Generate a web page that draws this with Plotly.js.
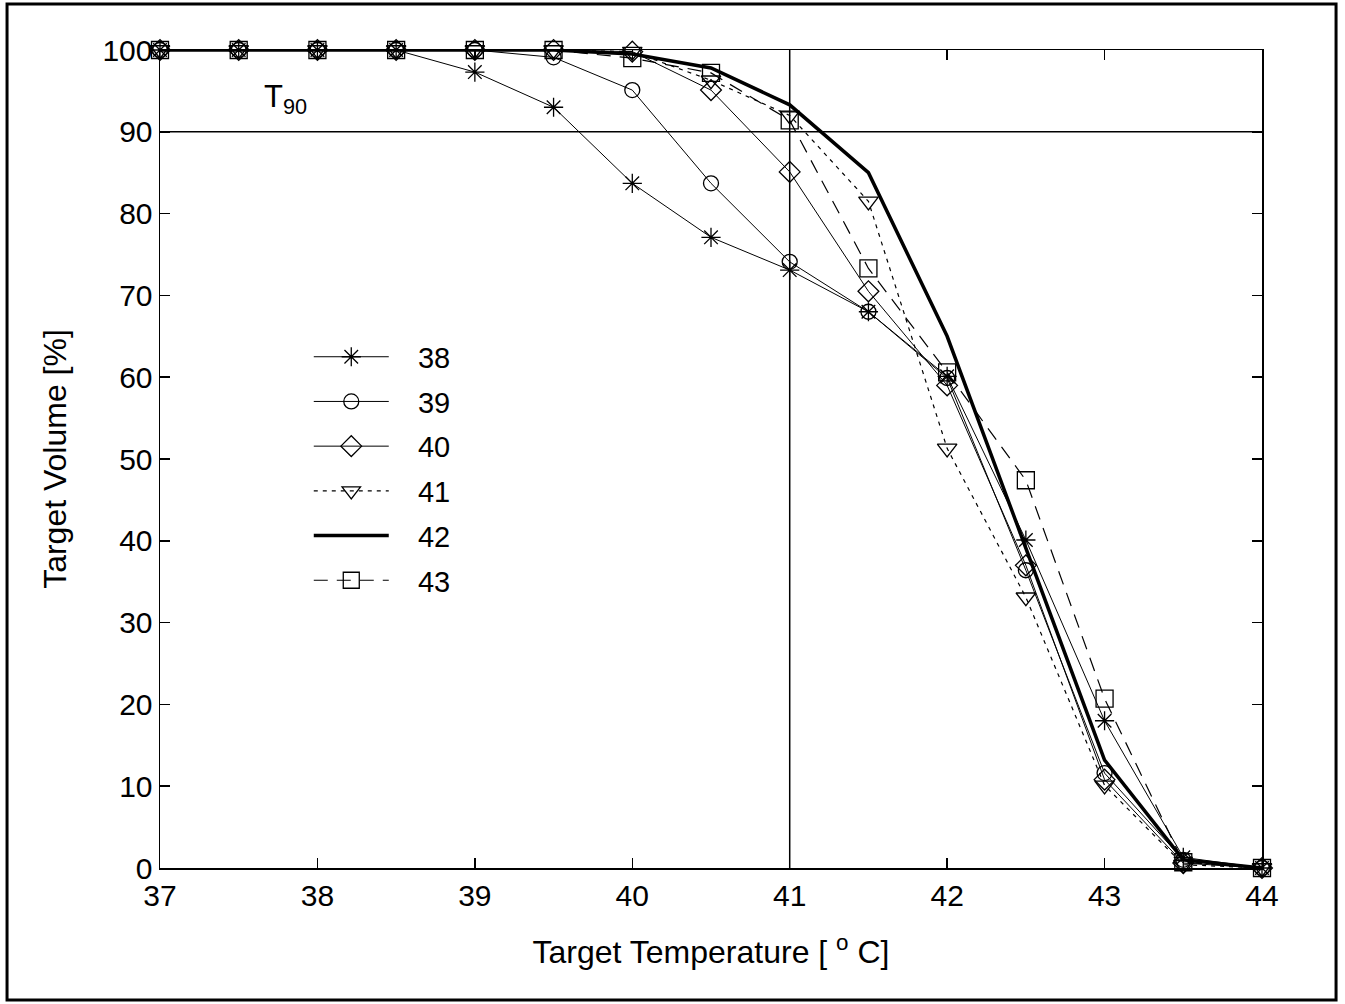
<!DOCTYPE html>
<html>
<head>
<meta charset="utf-8">
<script src="https://cdn.plot.ly/plotly-3.0.1.min.js"></script>
<style>html,body{margin:0;padding:0;background:#fff;}#chart{width:1345px;height:1004px;}</style>
</head>
<body>
<div id="chart"></div>
<script>
// Data
const temperature = [37, 37.5, 38, 38.5, 39, 39.5, 40, 40.5, 41, 41.5, 42, 42.5, 43, 43.5, 44];
const seriesNames = ['38', '39', '40', '41', '42', '43'];
const vol38 = [100, 100, 100, 100, 97.3, 93.0, 83.7, 77.1, 73.1, 68.0, 60.1, 40.1, 18.0, 1.3, 0];
const vol39 = [100, 100, 100, 100, 100, 99.1, 95.1, 83.7, 74.1, 68.0, 59.9, 36.4, 11.6, 1.0, 0];
const vol40 = [100, 100, 100, 100, 100, 100, 99.8, 95.1, 85.1, 70.5, 59.0, 37.0, 10.8, 0.6, 0];
const vol41 = [100, 100, 100, 100, 100, 100, 99.8, 96.3, 92.0, 81.5, 51.3, 33.1, 10.1, 0.4, 0];
const vol42 = [100, 100, 100, 100, 100, 100, 99.5, 97.8, 93.3, 85.0, 65.0, 39.0, 13.2, 1.0, 0];
const vol43 = [100, 100, 100, 100, 100, 100, 99.0, 97.2, 91.4, 73.3, 60.6, 47.4, 20.7, 0.7, 0];
const xTicks = [37, 38, 39, 40, 41, 42, 43, 44];
const yTicks = [0, 10, 20, 30, 40, 50, 60, 70, 80, 90, 100];
const t90Level = 90;
const t90Temp = 41;

const values = [vol38, vol39, vol40, vol41, vol42, vol43];
const styles = [
  {dash: 'solid', width: 1, symbol: 'asterisk-open', size: 16, mode: 'lines+markers'},
  {dash: 'solid', width: 1, symbol: 'circle-open', size: 15, mode: 'lines+markers'},
  {dash: 'solid', width: 1, symbol: 'diamond-open', size: 16, mode: 'lines+markers'},
  {dash: '4px,5px', width: 1.2, symbol: 'triangle-down-open', size: 17, mode: 'lines+markers'},
  {dash: 'solid', width: 3.5, symbol: 'circle', size: 1, mode: 'lines'},
  {dash: '14px,9px', width: 1.2, symbol: 'square-open', size: 17, mode: 'lines+markers'}
];

const traces = values.map((v, i) => ({
  x: temperature,
  y: v,
  name: '\u00a0\u00a0\u00a0' + seriesNames[i],
  legendgroup: 'g' + i,
  type: 'scatter',
  mode: styles[i].mode,
  line: {color: '#000', width: styles[i].width, dash: styles[i].dash},
  marker: {symbol: styles[i].symbol, size: styles[i].size, color: '#000', line: {color: '#000', width: 1.3}},
  cliponaxis: false
}));

const font = {family: 'Liberation Sans, Arial, sans-serif', color: '#000'};

const layout = {
  width: 1345, height: 1004,
  margin: {l: 160, r: 83, t: 50, b: 136},
  paper_bgcolor: '#fff', plot_bgcolor: '#fff',
  showlegend: true,
  legend: {
    x: 0.135, y: 0.656, xanchor: 'left', yanchor: 'top',
    bgcolor: 'rgba(0,0,0,0)', borderwidth: 0,
    font: Object.assign({}, font, {size: 29}),
    itemwidth: 75, tracegroupgap: 4
  },
  xaxis: {
    range: [37, 44], tickvals: xTicks, ticktext: xTicks.map(String),
    ticks: 'inside', ticklen: 10, tickwidth: 1.5, tickcolor: '#000',
    showline: true, linecolor: '#000', linewidth: 1.5, mirror: 'ticks',
    showgrid: false, zeroline: false,
    tickfont: Object.assign({}, font, {size: 30}),
    title: {text: 'Target Temperature [ <sup>o</sup> C]', font: Object.assign({}, font, {size: 32}), standoff: 30}
  },
  yaxis: {
    range: [0, 100], tickvals: yTicks, ticktext: yTicks.map(String),
    ticks: 'inside', ticklen: 10, tickwidth: 1.5, tickcolor: '#000',
    showline: true, linecolor: '#000', linewidth: 1.5, mirror: 'ticks',
    showgrid: false, zeroline: false,
    tickfont: Object.assign({}, font, {size: 30}),
    title: {text: 'Target Volume [%]', font: Object.assign({}, font, {size: 32}), standoff: 26}
  },
  shapes: [
    {type: 'line', xref: 'paper', yref: 'y', x0: 0, x1: 1, y0: t90Level, y1: t90Level, line: {color: '#000', width: 1.5}, layer: 'below'},
    {type: 'line', xref: 'x', yref: 'paper', x0: t90Temp, x1: t90Temp, y0: 0, y1: 1, line: {color: '#000', width: 1.5}, layer: 'below'},
    {type: 'rect', xref: 'paper', yref: 'paper', x0: -0.1388, x1: 1.0672, y0: -0.1614, y1: 1.0562, line: {color: '#000', width: 3}}
  ],
  annotations: [
    {x: 37.8, y: t90Level + 4, xref: 'x', yref: 'y', text: 'T<sub>90</sub>', showarrow: false,
     font: Object.assign({}, font, {size: 31}), xanchor: 'center', yanchor: 'middle'}
  ]
};

Plotly.newPlot('chart', traces, layout, {displayModeBar: false, staticPlot: true});
</script>
</body>
</html>
